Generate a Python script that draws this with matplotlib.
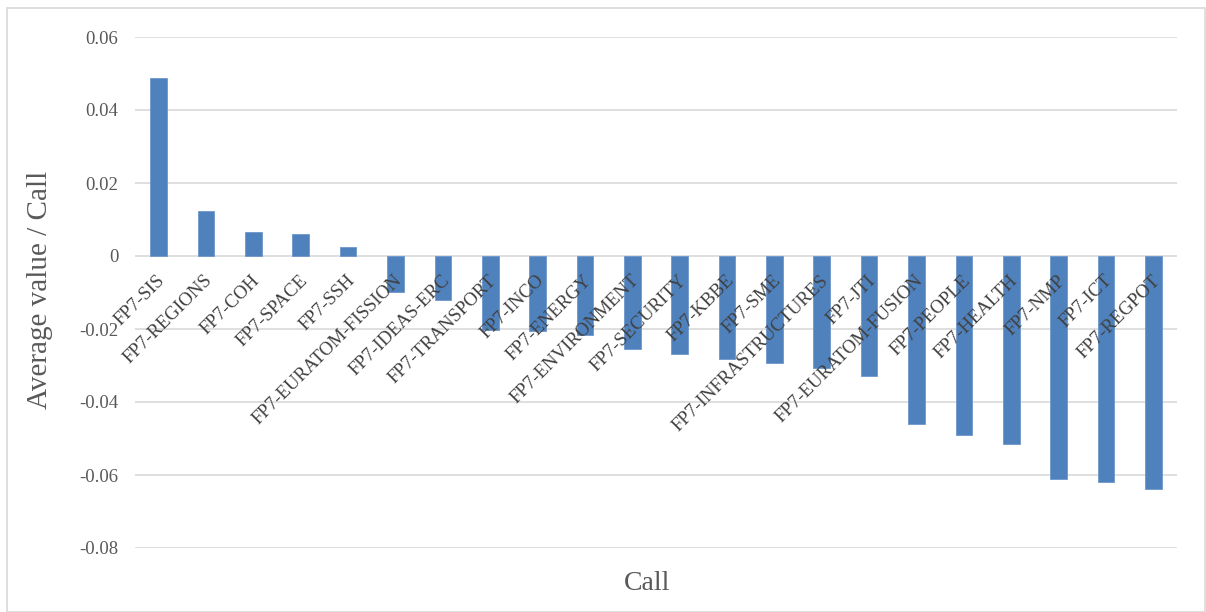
import matplotlib.pyplot as plt
from matplotlib.patches import Rectangle

# données
calls = ["FP7-SIS", "FP7-REGIONS", "FP7-COH", "FP7-SPACE", "FP7-SSH",
         "FP7-EURATOM-FISSION", "FP7-IDEAS-ERC", "FP7-TRANSPORT", "FP7-INCO",
         "FP7-ENERGY", "FP7-ENVIRONMENT", "FP7-SECURITY", "FP7-KBBE", "FP7-SME",
         "FP7-INFRASTRUCTURES", "FP7-JTI", "FP7-EURATOM-FUSION", "FP7-PEOPLE",
         "FP7-HEALTH", "FP7-NMP", "FP7-ICT", "FP7-REGPOT"]
values = [0.0488, 0.0123, 0.0066, 0.0059, 0.0025,
          -0.0099, -0.0120, -0.0203, -0.0205,
          -0.0216, -0.0255, -0.0268, -0.0282, -0.0293,
          -0.0306, -0.0329, -0.0460, -0.0490,
          -0.0515, -0.0610, -0.0620, -0.0638]
yticks = [0.06, 0.04, 0.02, 0, -0.02, -0.04, -0.06, -0.08]
ytick_labels = ["0.06", "0.04", "0.02", "0", "-0.02", "-0.04", "-0.06", "-0.08"]

plt.rcParams['font.family'] = ['Liberation Serif', 'DejaVu Serif']

fig = plt.figure(figsize=(12.06, 6.12), dpi=100)
ax = fig.add_axes([135 / 1206, 1 - 548 / 612, (1177 - 135) / 1206, (548 - 37) / 612])

x = list(range(len(calls)))
ax.bar(x, values, width=0.35, color="#4F81BD", edgecolor="#6E97CC", linewidth=0.6, zorder=3)

ax.set_ylim(-0.08, 0.06)
ax.set_xlim(-0.5, len(calls) - 0.5)
ax.set_yticks(yticks)
ax.set_yticklabels(ytick_labels, fontsize=13.5, color="#595959")
ax.tick_params(axis="y", length=0, pad=12)
ax.set_xticks([])
ax.yaxis.grid(True, color="#D9D9D9", linewidth=1.2, zorder=0)
for s in ax.spines.values():
    s.set_visible(False)

# étiquettes des catégories le long de l'axe zéro
for i, name in enumerate(calls):
    ax.annotate(name, xy=(i, 0), xytext=(-1.5, -11.5), textcoords="offset points",
                rotation=45, rotation_mode="anchor", ha="right", va="top",
                fontsize=13.5, color="#404040", zorder=4)

fig.text(40 / 1206, 1 - 290 / 612, "Average value / Call", rotation=90,
         ha="center", va="center", fontsize=21, color="#595959")
fig.text(647 / 1206, 1 - 583 / 612, "Call", ha="center", va="center",
         fontsize=20, color="#595959")

# cadre du graphique
fig.patches.append(Rectangle((7 / 1206, 0.0), 1198 / 1206, 1 - 8 / 612,
                             transform=fig.transFigure, fill=False,
                             edgecolor="#D9D9D9", linewidth=1.2))

fig.savefig("out.png", dpi=100)
